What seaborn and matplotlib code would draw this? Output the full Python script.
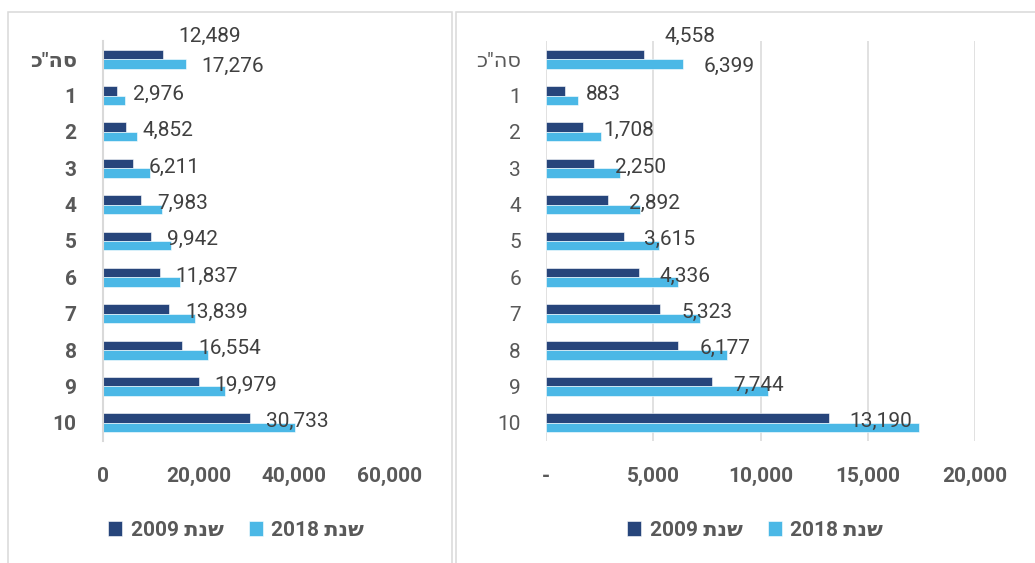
import numpy as np
import pandas as pd
import matplotlib
matplotlib.use('Agg')
import matplotlib.pyplot as plt
import matplotlib.ticker as mticker
from matplotlib.patches import Rectangle
import seaborn as sns

# Data
# Hebrew strings are written in visual order because matplotlib has no bidi
total_label = 'כ"הס'
categories = [total_label, '1', '2', '3', '4', '5', '6', '7', '8', '9', '10']
year_labels = ['2009 ' + 'שנת'[::-1], '2018 ' + 'שנת'[::-1]]

left_2009 = [12489, 2976, 4852, 6211, 7983, 9942, 11837, 13839, 16554, 19979, 30733]
left_2018 = [17276, 4530, 7040, 9750, 12330, 14210, 16020, 19230, 22010, 25500, 40130]
right_2009 = [4558, 883, 1708, 2250, 2892, 3615, 4336, 5323, 6177, 7744, 13190]
right_2018 = [6399, 1476, 2587, 3472, 4392, 5278, 6163, 7170, 8455, 10365, 17396]

dark = '#27457B'
light = '#4BB8E6'
txt = '#595959'
lbl = '#404040'
grid = '#D9D9D9'

sns.set_theme(style='white')
plt.rcParams['font.family'] = ['Roboto', 'DejaVu Sans']


def make_df(v09, v18):
    return pd.DataFrame({
        'cat': categories * 2,
        'year': [year_labels[0]] * len(categories) + [year_labels[1]] * len(categories),
        'value': list(v09) + list(v18),
    })


fig = plt.figure(figsize=(10.35, 5.63), dpi=100)

# panel frames
for x0, x1 in [(8, 452), (456, 1045)]:
    fig.patches.append(Rectangle((x0 / 1035, -0.1), (x1 - x0) / 1035, 1.1 - 12 / 563,
                                 transform=fig.transFigure, fill=False,
                                 edgecolor=grid, linewidth=1.1, zorder=0))

bottom = 1 - 441 / 563
height = 400 / 563
ax1 = fig.add_axes([103 / 1035, bottom, 287 / 1035, height])
ax2 = fig.add_axes([546 / 1035, bottom, 429 / 1035, height])

# ax, 2009, 2018, xmax, tick step, bold labels, y pad, label offset, legend x
panels = [
    (ax1, left_2009, left_2018, 60000, 20000, True, 19, 11.5, 236),
    (ax2, right_2009, right_2018, 20000, 5000, False, 18, 15, 755),
]

for ax, v09, v18, xmax, step, bold, ypad, off, leg_x in panels:
    df = make_df(v09, v18)
    sns.barplot(data=df, x='value', y='cat', hue='year', orient='h',
                palette=[dark, light], saturation=1, width=0.52, ax=ax,
                edgecolor='white', linewidth=0.4, legend=True)
    ax.set_xlim(0, xmax)
    ax.set_ylim(10.5, -0.5)
    ax.set_xlabel('')
    ax.set_ylabel('')
    ax.xaxis.set_major_locator(mticker.MultipleLocator(step))
    if bold:
        ax.xaxis.set_major_formatter(mticker.FuncFormatter(lambda v, p: f'{v:,.0f}'))
    else:
        ax.xaxis.set_major_formatter(mticker.FuncFormatter(lambda v, p: '-' if v == 0 else f'{v:,.0f}'))
        ax.grid(axis='x', color=grid, linewidth=1.1)
        ax.set_axisbelow(True)
    ax.tick_params(axis='x', length=0, pad=19, labelsize=15, labelcolor=txt)
    ax.tick_params(axis='y', length=0, pad=ypad, labelsize=15, labelcolor=txt)
    for t in ax.get_xticklabels():
        t.set_fontweight('bold')
    if bold:
        for t in ax.get_yticklabels():
            t.set_fontweight('bold')
    for s in ['top', 'right', 'bottom']:
        ax.spines[s].set_visible(False)
    if bold:
        ax.spines['left'].set_color(grid)
        ax.spines['left'].set_linewidth(1.5)
    else:
        ax.spines['left'].set_visible(False)

    # data labels: 2009 value at the end of each dark bar, both values for the total
    bars09 = ax.containers[0]
    bars18 = ax.containers[1]
    for i, (b, v) in enumerate(zip(bars09, v09)):
        yc = b.get_y() + b.get_height() / 2
        dy = 13 if i == 0 else -2.5
        ax.annotate(f'{v:,}', (b.get_width(), yc), xytext=(off, dy),
                    textcoords='offset points', ha='left', va='center',
                    fontsize=15, color=lbl)
    b = bars18[0]
    ax.annotate(f'{v18[0]:,}', (b.get_width(), b.get_y() + b.get_height() / 2),
                xytext=(off, -2), textcoords='offset points',
                ha='left', va='center', fontsize=15, color=lbl)

    handles, labels = ax.get_legend_handles_labels()
    ax.get_legend().remove()
    fig.legend(handles, labels, loc='center', bbox_to_anchor=(leg_x / 1035, 1 - 530 / 563),
               ncol=2, frameon=False, handlelength=0.7, handleheight=0.7,
               handletextpad=0.4, columnspacing=1.2,
               prop={'size': 15, 'weight': 'bold'}, labelcolor=txt)

fig.savefig('out.png', dpi=100)
